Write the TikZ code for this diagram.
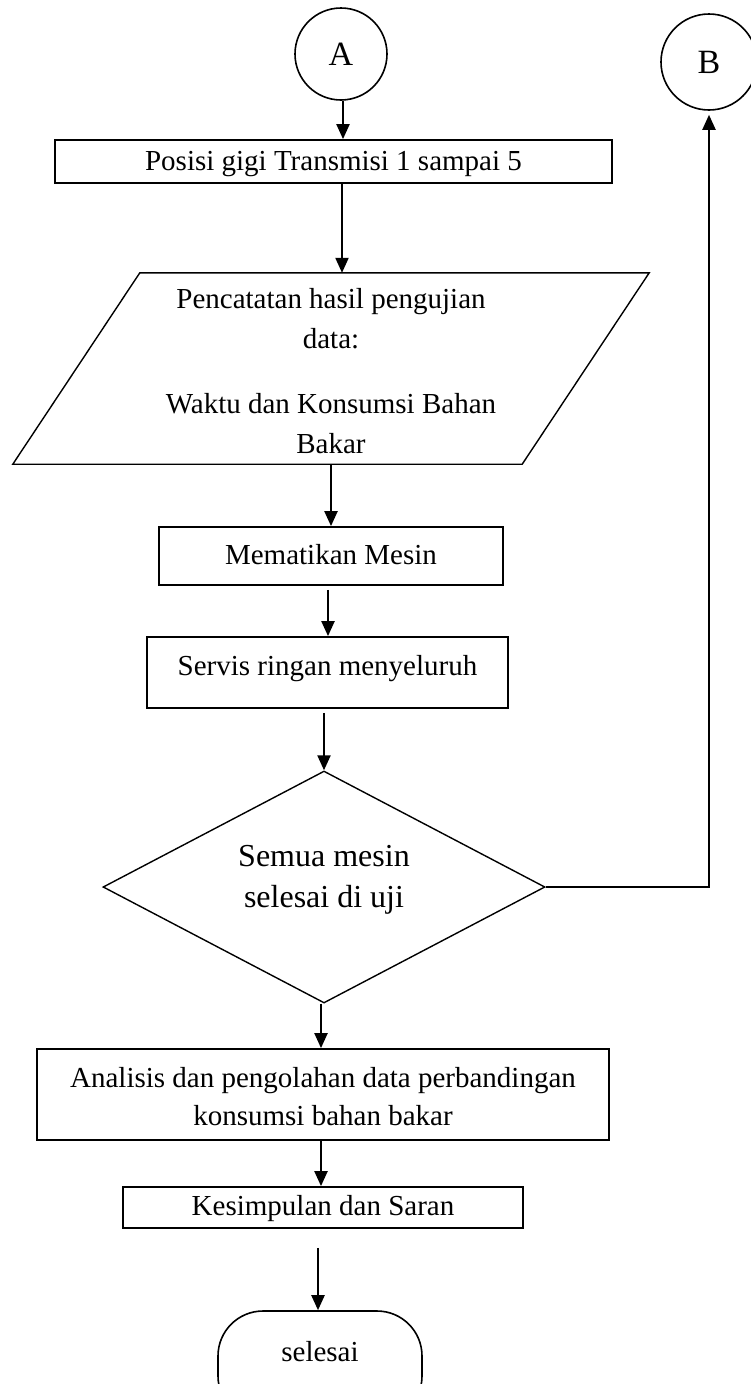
\documentclass[tikz,border=0pt]{standalone}
\usepackage{fontspec}
\setmainfont{Liberation Serif}
\usetikzlibrary{shapes.geometric,arrows.meta,calc}

\begin{document}
\begin{tikzpicture}[x=1pt,y=-1pt,
  txt/.style={font=\fontsize{29}{38}\selectfont},
  bigtxt/.style={font=\fontsize{32}{41}\selectfont},
  procbox/.style={draw, rectangle, line width=1.8pt, inner sep=0pt, txt, align=center},
  connector/.style={line width=2.2pt, -{Triangle[length=15pt,width=13pt]}},
  circlebox/.style={draw, circle, line width=1.6pt, inner sep=0pt, font=\fontsize{34}{40}\selectfont}
]
\useasboundingbox (0,0) rectangle (751,1384);

% connector circles
\node[circlebox, minimum size=92pt] (A) at (341,54) {A};
\node[circlebox, minimum size=96pt] (B) at (709,62) {B};

\node[procbox, minimum width=557pt, minimum height=43pt, text height=20pt, text depth=3pt]
  (pos) at (333.5,161.5) {Posisi gigi Transmisi 1 sampai 5};

% input/output step: text node, slanted outline drawn around it
\node[inner sep=0pt, minimum width=509pt, minimum height=191pt, align=center,
  font=\fontsize{29}{40}\selectfont, text height=176pt, text depth=7pt]
  (par) at (331,368.5) {Pencatatan hasil pengujian\\ data:\\[25pt] Waktu dan Konsumsi Bahan\\ Bakar};
\draw[line width=1.4pt, line join=miter]
  ($(par.north west)+(63.5,0)$) -- ($(par.north east)+(63.5,0)$)
  -- ($(par.south east)+(-63.5,0)$) -- ($(par.south west)+(-63.5,0)$) -- cycle;

\node[procbox, minimum width=344pt, minimum height=58pt, text height=20pt, text depth=4pt]
  (mem) at (331,556) {Mematikan Mesin};

\node[procbox, minimum width=361pt, minimum height=71pt, text height=20pt, text depth=15pt]
  (serv) at (327.5,672.5) {Servis ringan menyeluruh};

\node[draw, diamond, aspect=1.9, minimum width=442pt, minimum height=232pt,
  line width=1.4pt, inner sep=0pt, align=center, bigtxt, text height=48pt, text depth=8pt]
  (dia) at (324,887) {Semua mesin\\ selesai di uji};

\node[procbox, minimum width=572pt, minimum height=91pt, text height=67pt, text depth=6pt]
  (ana) at (323,1094.5) {Analisis dan pengolahan data perbandingan\\ konsumsi bahan bakar};

\node[procbox, minimum width=400pt, minimum height=41pt, text height=20pt, text depth=5pt]
  (kes) at (323,1207.5) {Kesimpulan dan Saran};

\node[draw, rectangle, rounded corners=45pt, line width=1.6pt, inner sep=0pt,
  minimum width=204pt, minimum height=110pt, txt, text height=20pt, text depth=30pt]
  (end) at (320,1366) {selesai};

% flow lines
\draw[connector] (343,0 |- A.south) -- (343,0 |- pos.north);
\draw[connector] (342,0 |- pos.south) -- (342,0 |- par.north);
\draw[connector] (par.south -| mem) -- (mem.north);
\draw[connector] ($(328,0 |- mem.south)+(0,4)$) -- (328,0 |- serv.north);
\draw[connector] ($(dia.north |- serv.south)+(0,4)$) -- (dia.north);
\draw[connector] (321,0 |- dia.south) -- (321,0 |- ana.north);
\draw[connector] (321,0 |- ana.south) -- (321,0 |- kes.north);
\draw[connector] ($(318,0 |- kes.south)+(0,19)$) -- (318,0 |- end.north);
\draw[connector, shorten >=4pt] (dia.east) -| (B.south);
\end{tikzpicture}
\end{document}
